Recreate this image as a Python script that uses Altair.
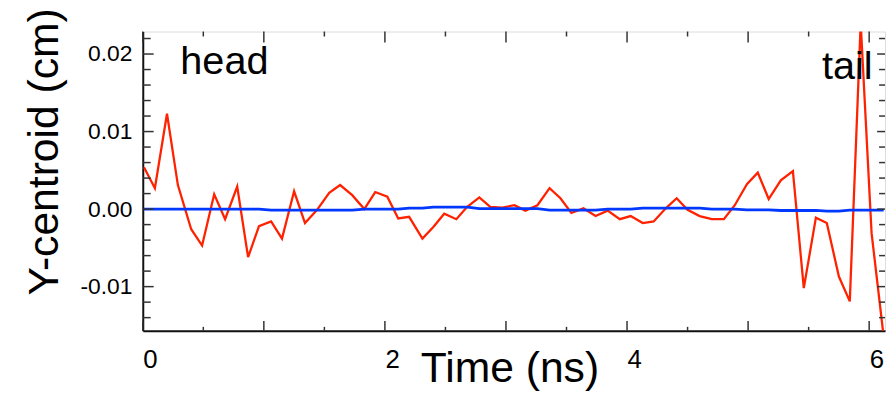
import altair as alt
import pandas as pd

# ---- data ----
times = [0.01, 0.10, 0.20, 0.29, 0.40, 0.49, 0.59, 0.68, 0.78, 0.87,
         0.96, 1.06, 1.15, 1.25, 1.34, 1.44, 1.54, 1.63, 1.73, 1.83,
         1.92, 2.02, 2.11, 2.20, 2.31, 2.40, 2.49, 2.59, 2.68, 2.78,
         2.87, 2.97, 3.07, 3.16, 3.26, 3.36, 3.45, 3.54, 3.64, 3.74,
         3.84, 3.94, 4.03, 4.13, 4.22, 4.32, 4.41, 4.50, 4.60, 4.70,
         4.80, 4.89, 4.99, 5.08, 5.17, 5.27, 5.37, 5.46, 5.56, 5.65,
         5.75, 5.84, 5.93, 6.02, 6.12]

red_vals = [0.0054, 0.0027, 0.0123, 0.0031, -0.0026, -0.0047, 0.0019, -0.0013, 0.0029, -0.0062,
            -0.0022, -0.0016, -0.0038, 0.0023, -0.0018, -0.0001, 0.0021, 0.0031, 0.0018, 0.0000,
            0.0022, 0.0016, -0.0012, -0.0010, -0.0038, -0.0023, -0.0006, -0.0013, 0.0003, 0.0015,
            0.0003, 0.0002, 0.0005, -0.0002, 0.0005, 0.0027, 0.0014, -0.0005, 0.0001, -0.0009,
            -0.0002, -0.0013, -0.0009, -0.0018, -0.0016, 0.0001, 0.0014, -0.0001, -0.0009, -0.0013,
            -0.0013, 0.0005, 0.0032, 0.0047, 0.0013, 0.0037, 0.0049, -0.0102, -0.0011, -0.0018,
            -0.0087, -0.0119, 0.0240, -0.0031, -0.0165]

blue_vals = [0, 0, 0, 0, 0, 0, 0, 0, 0, 0,
             0, -0.00013, -0.00013, -0.00013, -0.00013, -0.00013, -0.00013, -0.00013, -0.00013, 0,
             0, 0, 0, 0.00013, 0.00013, 0.00026, 0.00026, 0.00026, 0.00026, 0.00005,
             0.00005, 0.00005, 0.00005, 0.00005, 0.00005, -0.00013, -0.00013, -0.00013, -0.00013, -0.00013,
             0, 0, 0, 0.00013, 0.00013, 0.00013, 0.00013, 0.00013, 0.00013, 0,
             0, 0, -0.0001, -0.0001, -0.0001, -0.00018, -0.00018, -0.00018, -0.00018, -0.00026,
             -0.00026, -0.00013, -0.00013, -0.00013, -0.00013]

x_label_values = [0, 2, 4, 6]
x_major_ticks = [0, 1, 2, 3, 4, 5, 6]
x_minor_ticks = [0.5, 1.5, 2.5, 3.5, 4.5, 5.5]
y_label_values = [-0.01, 0.0, 0.01, 0.02]
y_minor_ticks = [-0.014, -0.012, -0.008, -0.006, -0.004, -0.002,
                 0.002, 0.004, 0.006, 0.008, 0.012, 0.014, 0.016, 0.018, 0.022]

annot_text = ["head", "tail"]
annot_x = [0.31, 5.61]
annot_y = [0.01747, 0.0168]

x_domain = [0, 6.131]
y_domain = [-0.0157, 0.0229]

W, H = 749, 302
FONT = "Liberation Sans"

df = pd.DataFrame({"t": times, "red": red_vals, "blue": blue_vals})
xs = alt.Scale(domain=x_domain, nice=False, zero=False)
ys = alt.Scale(domain=y_domain, nice=False, zero=False)

x_axis = alt.Axis(values=x_label_values, ticks=False, tickSize=0, grid=False,
                  domain=True, domainColor="#111111", domainWidth=2,
                  labelFont=FONT, labelFontSize=26, labelColor="#000000",
                  labelAlign="left", labelBaseline="top", labelPadding=16,
                  labelFlush=False, labelOverlap=False, format="d",
                  title="Time (ns)", titleFont=FONT, titleFontSize=43,
                  titleFontWeight="normal", titleColor="#000000",
                  titleAlign="center", titleBaseline="alphabetic",
                  titleX=370, titleY=51)
y_axis = alt.Axis(values=y_label_values, ticks=False, tickSize=0, grid=False,
                  domain=True, domainColor="#111111", domainWidth=2,
                  labelFont=FONT, labelFontSize=23, labelColor="#000000",
                  labelPadding=11, labelFlush=False, labelOverlap=False,
                  labelExpr="datum.value < 0 ? '-' + format(-datum.value, '.2f') : format(datum.value, '.2f')",
                  title="Y-centroid (cm)", titleFont=FONT, titleFontSize=43,
                  titleFontWeight="normal", titleColor="#000000",
                  titleAngle=270, titleAlign="center", titleBaseline="middle",
                  titleX=-99, titleY=121)

red_line = alt.Chart(df).mark_line(color="#ff2200", strokeWidth=2.3, clip=True).encode(
    x=alt.X("t:Q", scale=xs, axis=x_axis),
    y=alt.Y("red:Q", scale=ys, axis=y_axis),
)
blue_line = alt.Chart(df).mark_line(color="#0038ff", strokeWidth=2.8, clip=True).encode(
    x=alt.X("t:Q", scale=xs, axis=x_axis),
    y=alt.Y("blue:Q", scale=ys, axis=y_axis),
)

tick_color = "#333333"
xmaj = pd.DataFrame({"v": x_major_ticks})
xmin = pd.DataFrame({"v": x_minor_ticks})
ymaj = pd.DataFrame({"v": y_label_values})
ymin = pd.DataFrame({"v": y_minor_ticks})

def xticks(d, y0, y1):
    return alt.Chart(d).mark_rule(color=tick_color, strokeWidth=1.5).encode(
        x=alt.X("v:Q", scale=xs, axis=x_axis), y=alt.value(y0), y2=alt.value(y1))

def yticks(d, x0, x1):
    return alt.Chart(d).mark_rule(color=tick_color, strokeWidth=1.5).encode(
        y=alt.Y("v:Q", scale=ys, axis=y_axis), x=alt.value(x0), x2=alt.value(x1))

tick_layers = [
    xticks(xmaj, H, H - 10), xticks(xmin, H, H - 4),
    xticks(xmaj, 0, 11), xticks(xmin, 0, 5),
    yticks(ymaj, 0, 11), yticks(ymin, 0, 8),
    yticks(ymaj, W, W - 8), yticks(ymin, W, W - 6),
]

annot = alt.Chart(pd.DataFrame({"x": annot_x, "y": annot_y, "txt": annot_text})).mark_text(
    font=FONT, fontSize=40, align="left", baseline="alphabetic", color="#000000"
).encode(
    x=alt.X("x:Q", scale=xs, axis=x_axis),
    y=alt.Y("y:Q", scale=ys, axis=y_axis),
    text="txt:N",
)

chart = alt.layer(red_line, blue_line, *tick_layers, annot).properties(
    width=W, height=H,
    autosize=alt.AutoSizeParams(type="none"),
    padding={"left": 136, "top": 22, "right": 3, "bottom": 62},
).configure_view(
    stroke="#8a8a8a", strokeWidth=1.5
).configure(background="#ffffff")

chart.save("out.html", embed_options={"renderer": "svg", "actions": False})
